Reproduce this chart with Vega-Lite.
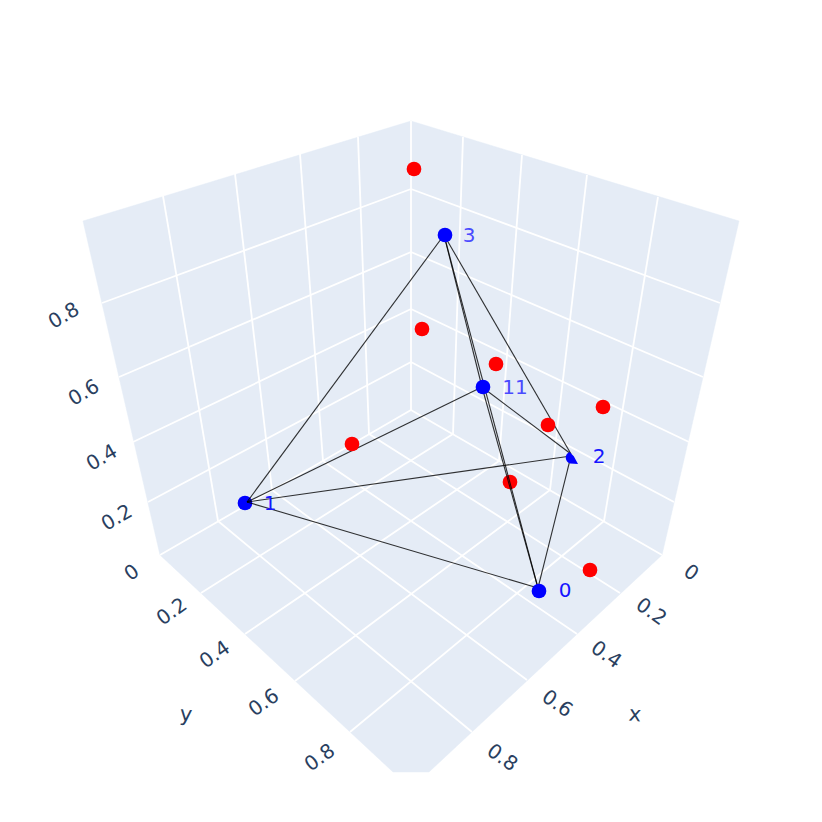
{
"$schema":"https://vega.github.io/schema/vega-lite/v6.json",
"width":822,"height":822,"padding":0,"autosize":{"type":"fit","contains":"padding"},
"background":"white",
"config":{"view":{"stroke":null}},
"datasets":{
"panes":[
{"pane":"left","o":1,"u":411,"v":121},{"pane":"left","o":2,"u":83,"v":221},{"pane":"left","o":3,"u":160,"v":555},{"pane":"left","o":4,"u":411,"v":410},
{"pane":"right","o":1,"u":411,"v":121},{"pane":"right","o":2,"u":739,"v":221},{"pane":"right","o":3,"u":662,"v":555},{"pane":"right","o":4,"u":411,"v":410},
{"pane":"floor","o":1,"u":411,"v":410},{"pane":"floor","o":2,"u":160,"v":555},{"pane":"floor","o":3,"u":393,"v":772},{"pane":"floor","o":4,"u":429,"v":772},{"pane":"floor","o":5,"u":662,"v":555}
],
"grid":[
{"u":411,"v":189,"u2":102,"v2":303},{"u":411,"v":252,"u2":119,"v2":377},{"u":411,"v":309,"u2":133,"v2":442},{"u":411,"v":362,"u2":148,"v2":502},
{"u":411,"v":189,"u2":720,"v2":303},{"u":411,"v":252,"u2":703,"v2":377},{"u":411,"v":309,"u2":689,"v2":442},{"u":411,"v":362,"u2":674,"v2":502},
{"u":163,"v":196,"u2":218,"v2":521},{"u":235,"v":174,"u2":272,"v2":490},{"u":300,"v":154,"u2":323,"v2":461},{"u":358,"v":137,"u2":369,"v2":434},
{"u":463,"v":137,"u2":453,"v2":434},{"u":522,"v":155,"u2":499,"v2":461},{"u":587,"v":175,"u2":550,"v2":490},{"u":658,"v":197,"u2":604,"v2":521},
{"u":369,"v":434,"u2":620,"v2":593},{"u":323,"v":461,"u2":577,"v2":634},{"u":272,"v":490,"u2":527,"v2":680},{"u":218,"v":521,"u2":472,"v2":732},
{"u":453,"v":434,"u2":201,"v2":593},{"u":499,"v":461,"u2":245,"v2":634},{"u":550,"v":490,"u2":295,"v2":681},{"u":604,"v":521,"u2":350,"v2":732},
{"u":411,"v":121,"u2":411,"v2":410},{"u":411,"v":410,"u2":160,"v2":555},{"u":411,"v":410,"u2":662,"v2":555}
],
"edges":[
{"edge":"3-1","u":444,"v":235,"u2":247,"v2":502},
{"edge":"3-0","u":444,"v":235,"u2":538,"v2":588},
{"edge":"3-2","u":444,"v":235,"u2":571,"v2":454},
{"edge":"3-11","u":444,"v":235,"u2":482,"v2":387},
{"edge":"11-0","u":482,"v":387,"u2":538,"v2":588},
{"edge":"11-1","u":482,"v":387,"u2":247,"v2":502},
{"edge":"11-2","u":482,"v":387,"u2":571,"v2":454},
{"edge":"1-2","u":247,"v":502,"u2":571,"v2":456},
{"edge":"1-0","u":247,"v":502,"u2":538,"v2":588},
{"edge":"2-0","u":571,"v":456,"u2":538,"v2":588}
],
"points":[
{"series":"red","depth":"over","u":414,"v":169},
{"series":"red","depth":"over","u":422,"v":329},
{"series":"red","depth":"over","u":496,"v":364},
{"series":"red","depth":"over","u":603,"v":407},
{"series":"red","depth":"over","u":548,"v":425},
{"series":"red","depth":"under","u":510,"v":482},
{"series":"red","depth":"over","u":590,"v":570},
{"series":"red","depth":"over","u":352,"v":444},
{"series":"blue","depth":"over","u":445,"v":235},
{"series":"blue","depth":"over","u":483,"v":387},
{"series":"blue","depth":"over","u":539,"v":591},
{"series":"blue","depth":"under","u":245,"v":503}
],
"labels":[
{"text":"3","tone":"light","u":469,"v":236},
{"text":"11","tone":"light","u":515,"v":388},
{"text":"2","tone":"full","u":599,"v":457},
{"text":"0","tone":"full","u":565,"v":591},
{"text":"1","tone":"full","u":270,"v":504}
],
"ticks":[
{"axis":"z","text":"0.8","u":64,"v":316},{"axis":"z","text":"0.6","u":84,"v":393},{"axis":"z","text":"0.4","u":102,"v":458},{"axis":"z","text":"0.2","u":117,"v":518},
{"axis":"y","text":"0","u":132,"v":573},{"axis":"y","text":"0.2","u":172,"v":612},{"axis":"y","text":"0.4","u":215,"v":655},{"axis":"y","text":"0.6","u":264,"v":703},{"axis":"y","text":"0.8","u":320,"v":758},
{"axis":"x","text":"0","u":691,"v":573},{"axis":"x","text":"0.2","u":651,"v":612},{"axis":"x","text":"0.4","u":606,"v":655},{"axis":"x","text":"0.6","u":557,"v":704},{"axis":"x","text":"0.8","u":502,"v":758},
{"axis":"title","text":"y","u":186,"v":715},{"axis":"title","text":"x","u":635,"v":715}
]
},
"encoding":{
"x":{"field":"u","type":"quantitative","scale":{"domain":[0,822]},"axis":null},
"y":{"field":"v","type":"quantitative","scale":{"domain":[822,0]},"axis":null}
},
"resolve":{"scale":{"color":"independent"}},
"layer":[
{"data":{"name":"panes"},"mark":{"type":"line","fill":"#E5ECF6","stroke":"#E5ECF6","strokeWidth":0.5},"encoding":{"detail":{"field":"pane"},"order":{"field":"o","type":"quantitative"}}},
{"data":{"name":"grid"},"mark":{"type":"rule","stroke":"white","strokeWidth":1.8},"encoding":{"x2":{"field":"u2"},"y2":{"field":"v2"}}},
{"data":{"name":"points"},"transform":[{"filter":"datum.depth==='under'"}],"mark":{"type":"circle","size":216,"opacity":1},"encoding":{"color":{"field":"series","type":"nominal","scale":{"domain":["red","blue"],"range":["#ff0000","#0000ff"]},"legend":null}}},
{"data":{"name":"edges"},"mark":{"type":"rule","stroke":"#000000","strokeWidth":1.1,"opacity":0.8},"encoding":{"x2":{"field":"u2"},"y2":{"field":"v2"}}},
{"data":{"name":"points"},"transform":[{"filter":"datum.depth==='over'"}],"mark":{"type":"circle","size":216,"opacity":1},"encoding":{"color":{"field":"series","type":"nominal","scale":{"domain":["red","blue"],"range":["#ff0000","#0000ff"]},"legend":null}}},
{"data":{"values":[{"u":572,"v":458}]},"mark":{"type":"point","filled":true,"opacity":1,"fill":"#0000ff","stroke":null,"size":144,"shape":"M -0.4 -1 L 0.3 -0.3 L 1 1 L -0.3 0.9 A 1 1 0 0 1 -0.4 -1 Z"}},
{"data":{"name":"labels"},"mark":{"type":"text","font":"DejaVu Sans","fontSize":20,"align":"center","baseline":"middle"},"encoding":{"text":{"field":"text"},"color":{"field":"tone","type":"nominal","scale":{"domain":["light","full"],"range":["#4a4aff","#1515ff"]},"legend":null}}},
{"data":{"name":"ticks"},"transform":[{"filter":"datum.axis==='z'"}],"mark":{"type":"text","font":"DejaVu Sans","fontSize":20,"angle":-30,"align":"center","baseline":"middle","color":"#2a3f5f"},"encoding":{"text":{"field":"text"}}},
{"data":{"name":"ticks"},"transform":[{"filter":"datum.axis==='y'"}],"mark":{"type":"text","font":"DejaVu Sans","fontSize":20,"angle":-35,"align":"center","baseline":"middle","color":"#2a3f5f"},"encoding":{"text":{"field":"text"}}},
{"data":{"name":"ticks"},"transform":[{"filter":"datum.axis==='x'"}],"mark":{"type":"text","font":"DejaVu Sans","fontSize":20,"angle":35,"align":"center","baseline":"middle","color":"#2a3f5f"},"encoding":{"text":{"field":"text"}}},
{"data":{"name":"ticks"},"transform":[{"filter":"datum.axis==='title'"}],"mark":{"type":"text","font":"DejaVu Sans","fontSize":21,"angle":5,"align":"center","baseline":"middle","color":"#2a3f5f"},"encoding":{"text":{"field":"text"}}}
]
}
